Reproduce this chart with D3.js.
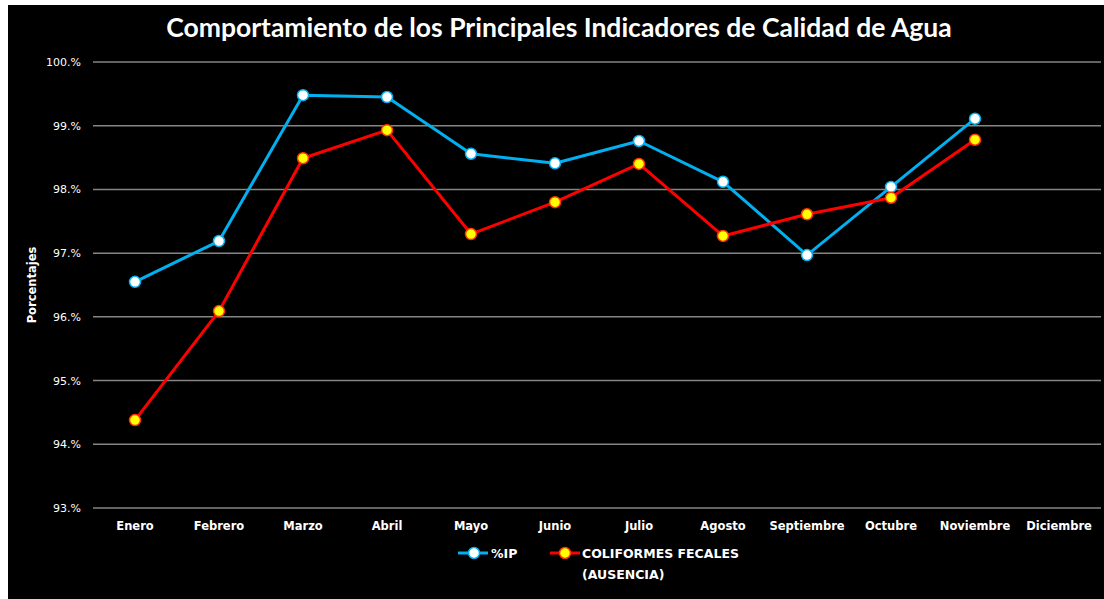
<!DOCTYPE html>
<html><head><meta charset="utf-8">
<script src="https://cdn.jsdelivr.net/npm/d3@7"></script>
<style>html,body{margin:0;padding:0;background:#fff;}svg{display:block;}</style>
</head><body>
<svg id="chart" width="1104" height="599"></svg>
<script>
const months = ["Enero","Febrero","Marzo","Abril","Mayo","Junio","Julio","Agosto","Septiembre","Octubre","Noviembre","Diciembre"];
const ipValues = [96.55, 97.19, 99.48, 99.45, 98.56, 98.41, 98.76, 98.12, 96.97, 98.04, 99.11, null];
const coliValues = [94.38, 96.09, 98.49, 98.93, 97.30, 97.80, 98.40, 97.27, 97.61, 97.87, 98.78, null];
const yTicks = [93, 94, 95, 96, 97, 98, 99, 100];
const yTickLabels = ["93.%","94.%","95.%","96.%","97.%","98.%","99.%","100.%"];
const title = "Comportamiento de los Principales Indicadores de Calidad de Agua";
const seriesNames = ["%IP", "COLIFORMES FECALES", "(AUSENCIA)"];

const svg = d3.select("#chart");
svg.append("rect").attr("x",8).attr("y",5).attr("width",1096).attr("height",594).attr("fill","#000");

const x = d3.scaleBand().domain(months).range([93,1101]);
const y = d3.scaleLinear().domain([93,100]).range([508,62]);

// gridlines
svg.append("g").selectAll("line").data(yTicks).join("line")
  .attr("x1",93).attr("x2",1101)
  .attr("y1",d=>y(d)).attr("y2",d=>y(d))
  .attr("stroke","#858585").attr("stroke-width",1.5);

// y axis labels
const yAxis = d3.axisLeft(y).tickValues(yTicks).tickFormat((d,i)=>yTickLabels[i]).tickSize(0).tickPadding(12);
const gy = svg.append("g").attr("transform","translate(93,0)").call(yAxis);
gy.select(".domain").remove();
gy.selectAll("text").attr("fill","#fff").style("font-family","'DejaVu Sans', Verdana, sans-serif").style("font-size","11px");

// x axis labels
const xAxis = d3.axisBottom(x).tickSize(0).tickPadding(14);
const gx = svg.append("g").attr("transform","translate(0,508)").call(xAxis);
gx.select(".domain").remove();
gx.selectAll("text").attr("fill","#fff").style("font-family","'DejaVu Sans', Verdana, sans-serif").style("font-size","11.5px").style("font-weight","bold");

// title
svg.append("text").attr("x",559).attr("y",37).attr("text-anchor","middle")
  .attr("fill","#fff").style("font-family","Lato, 'Open Sans', sans-serif").style("font-weight","bold").style("font-size","26.5px")
  .text(title);

// y title
svg.append("text").attr("transform","translate(36,285) rotate(-90)").attr("text-anchor","middle")
  .attr("fill","#fff").style("font-family","'DejaVu Sans', Verdana, sans-serif").style("font-weight","bold").style("font-size","11.5px")
  .text("Porcentajes");

const cx = d => x(d) + x.bandwidth()/2;
const line = d3.line().defined(d=>d.v!=null).x(d=>cx(d.m)).y(d=>y(d.v));

function drawSeries(vals, color, fill, stroke){
  const data = months.map((m,i)=>({m, v:vals[i]}));
  svg.append("path").datum(data).attr("d",line).attr("fill","none").attr("stroke",color).attr("stroke-width",3).attr("stroke-linejoin","round");
  svg.append("g").selectAll("circle").data(data.filter(d=>d.v!=null)).join("circle")
    .attr("cx",d=>cx(d.m)).attr("cy",d=>y(d.v)).attr("r",5.5)
    .attr("fill",fill).attr("stroke",stroke).attr("stroke-width",1.5);
}
drawSeries(ipValues, "#00b0f0", "#ffffff", "#00b0f0");
drawSeries(coliValues, "#ff0000", "#ffff00", "#ff3300");

// legend
const lg = svg.append("g");
lg.append("line").attr("x1",458).attr("x2",488).attr("y1",553).attr("y2",553).attr("stroke","#00b0f0").attr("stroke-width",3);
lg.append("circle").attr("cx",474).attr("cy",553).attr("r",5.5).attr("fill","#fff").attr("stroke","#00b0f0").attr("stroke-width",1.5);
lg.append("text").attr("x",491).attr("y",558).attr("fill","#fff").style("font-family","'DejaVu Sans', Verdana, sans-serif").style("font-weight","bold").style("font-size","12.5px").text(seriesNames[0]);
lg.append("line").attr("x1",550).attr("x2",580).attr("y1",553).attr("y2",553).attr("stroke","#ff0000").attr("stroke-width",3);
lg.append("circle").attr("cx",565).attr("cy",553).attr("r",5.5).attr("fill","#ffff00").attr("stroke","#ff3300").attr("stroke-width",1.5);
lg.append("text").attr("x",582).attr("y",558).attr("fill","#fff").style("font-family","'DejaVu Sans', Verdana, sans-serif").style("font-weight","bold").style("font-size","12.5px").text(seriesNames[1]);
lg.append("text").attr("x",582).attr("y",579).attr("fill","#fff").style("font-family","'DejaVu Sans', Verdana, sans-serif").style("font-weight","bold").style("font-size","12.5px").text(seriesNames[2]);
</script>
</body></html>
